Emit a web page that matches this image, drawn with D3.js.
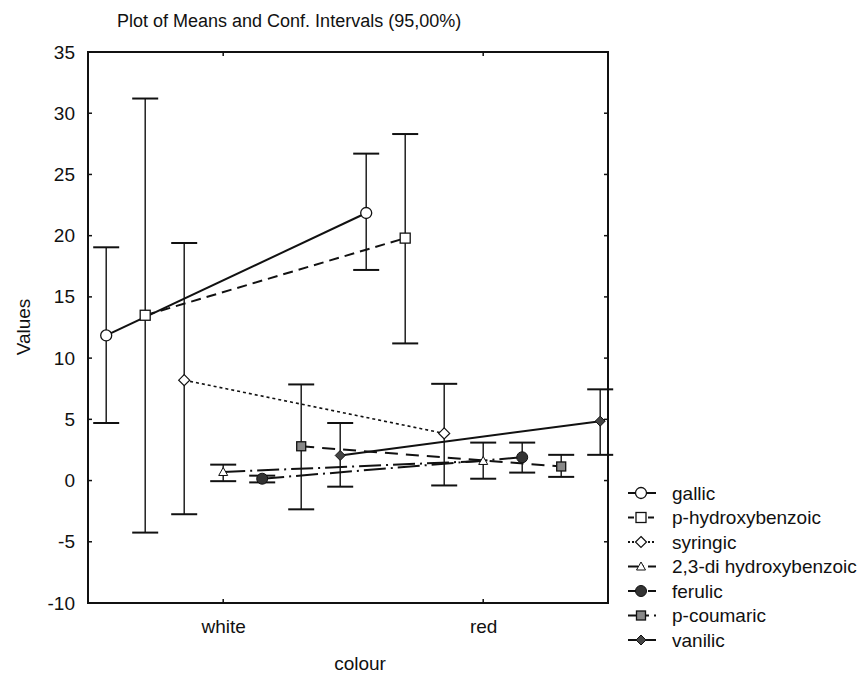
<!DOCTYPE html>
<html><head><meta charset="utf-8">
<script src="https://cdn.jsdelivr.net/npm/d3@7"></script>
<style>
html,body{margin:0;padding:0;background:#fff;}
text{font-family:"Liberation Sans",Arial,sans-serif;fill:#111;}
</style></head>
<body>
<svg id="chart" width="863" height="676"></svg>
<script>
const categories = ["white", "red"];
const seriesNames = ["gallic", "p-hydroxybenzoic", "syringic", "2,3-di hydroxybenzoic", "ferulic", "p-coumaric", "vanilic"];
const means = [
  [11.85, 21.85],
  [13.5, 19.8],
  [8.2, 3.85],
  [0.7, 1.6],
  [0.15, 1.9],
  [2.8, 1.15],
  [2.05, 4.85]
];
const upper = [
  [19.05, 26.7],
  [31.2, 28.3],
  [19.4, 7.9],
  [1.3, 3.1],
  [0.4, 3.1],
  [7.85, 2.1],
  [4.7, 7.45]
];
const lower = [
  [4.7, 17.2],
  [-4.25, 11.2],
  [-2.75, -0.4],
  [-0.05, 0.15],
  [-0.15, 0.65],
  [-2.35, 0.3],
  [-0.5, 2.1]
];
const yTicks = [-10, -5, 0, 5, 10, 15, 20, 25, 30, 35];
const titleText = "Plot of Means and Conf. Intervals (95,00%)";
const xTitle = "colour";
const yTitle = "Values";

const markers = ["circle", "square", "diamond", "triangle", "dot", "graysquare", "smalldiamond"];
const dashes = [null, "10,6", "3,3", "22,5,2,5", "22,5,2,5", "13,8", null];

const svg = d3.select("#chart");
const L = 88, R = 608, T = 52, B = 603;
const x = d3.scaleLinear().domain([-0.52, 1.48]).range([L, R]);
const y = d3.scaleLinear().domain([-10, 35]).range([B, T]);
const off = 0.15;
const px = (ci, si) => x(ci + (si - 3) * off);
const FF = "Liberation Sans, Arial, sans-serif";

// title
svg.append("text").attr("x", 117).attr("y", 27).style("font-size", "18px").text(titleText);

// frame
svg.append("rect").attr("x", L).attr("y", T).attr("width", R - L).attr("height", B - T)
  .attr("fill", "none").attr("stroke", "#111").attr("stroke-width", 2);

// y axis
const yAx = svg.append("g").attr("transform", `translate(${L},0)`)
  .call(d3.axisLeft(y).tickValues(yTicks).tickSize(0).tickPadding(13).tickFormat(d => String(d)));
yAx.select(".domain").remove();
yAx.attr("font-size", null).attr("font-family", null);
yAx.selectAll("text").style("font-size", "19px").style("font-family", FF).attr("fill", "#111");
yTicks.forEach(v => {
  svg.append("line").attr("x1", L).attr("x2", L + 4).attr("y1", y(v)).attr("y2", y(v)).attr("stroke", "#111").attr("stroke-width", 1.5);
  svg.append("line").attr("x1", R).attr("x2", R - 4).attr("y1", y(v)).attr("y2", y(v)).attr("stroke", "#111").attr("stroke-width", 1.5);
});

// x axis
const xAx = svg.append("g").attr("transform", `translate(0,${B})`)
  .call(d3.axisBottom(x).tickValues([0, 1]).tickSize(0).tickPadding(17).tickFormat(i => categories[i]));
xAx.select(".domain").remove();
xAx.attr("font-size", null).attr("font-family", null);
xAx.selectAll("text").style("font-size", "19px").style("font-family", FF).attr("fill", "#111");
[0, 1].forEach(c => {
  svg.append("line").attr("x1", x(c)).attr("x2", x(c)).attr("y1", T).attr("y2", T + 4).attr("stroke", "#111").attr("stroke-width", 1.5);
  svg.append("line").attr("x1", x(c)).attr("x2", x(c)).attr("y1", B).attr("y2", B - 4).attr("stroke", "#111").attr("stroke-width", 1.5);
});

svg.append("text").attr("x", 360).attr("y", 670).attr("text-anchor", "middle").style("font-size", "19px").text(xTitle);
svg.append("text").attr("transform", `translate(30,327) rotate(-90)`).attr("text-anchor", "middle").style("font-size", "19px").text(yTitle);

function drawMarker(g, type, cx, cy) {
  const s = "#111";
  switch (type) {
    case "circle":
      g.append("circle").attr("cx", cx).attr("cy", cy).attr("r", 5.5).attr("fill", "#fff").attr("stroke", s).attr("stroke-width", 1.3); break;
    case "square":
      g.append("rect").attr("x", cx - 5).attr("y", cy - 5).attr("width", 10).attr("height", 10).attr("fill", "#fff").attr("stroke", s).attr("stroke-width", 1.3); break;
    case "diamond":
      g.append("path").attr("d", `M${cx},${cy-5.5}L${cx+5.5},${cy}L${cx},${cy+5.5}L${cx-5.5},${cy}Z`).attr("fill", "#fff").attr("stroke", s).attr("stroke-width", 1.2); break;
    case "triangle":
      g.append("path").attr("d", `M${cx},${cy-4.5}L${cx+4.5},${cy+3.5}L${cx-4.5},${cy+3.5}Z`).attr("fill", "#fff").attr("stroke", s).attr("stroke-width", 1); break;
    case "dot":
      g.append("circle").attr("cx", cx).attr("cy", cy).attr("r", 5.5).attr("fill", "#333").attr("stroke", s).attr("stroke-width", 1); break;
    case "graysquare":
      g.append("rect").attr("x", cx - 4.5).attr("y", cy - 4.5).attr("width", 9).attr("height", 9).attr("fill", "#888").attr("stroke", s).attr("stroke-width", 1.3); break;
    case "smalldiamond":
      g.append("path").attr("d", `M${cx},${cy-5}L${cx+5},${cy}L${cx},${cy+5}L${cx-5},${cy}Z`).attr("fill", "#444").attr("stroke", s).attr("stroke-width", 1); break;
  }
}

const plot = svg.append("g");
seriesNames.forEach((name, si) => {
  [0, 1].forEach(ci => {
    const cx = px(ci, si);
    plot.append("line").attr("x1", cx).attr("x2", cx).attr("y1", y(upper[si][ci])).attr("y2", y(lower[si][ci]))
      .attr("stroke", "#111").attr("stroke-width", 1.4);
    [upper[si][ci], lower[si][ci]].forEach(v => {
      plot.append("line").attr("x1", cx - 13).attr("x2", cx + 13).attr("y1", y(v)).attr("y2", y(v))
        .attr("stroke", "#111").attr("stroke-width", 2);
    });
  });
});
const line = d3.line().x(d => d[0]).y(d => d[1]);
seriesNames.forEach((name, si) => {
  const pts = [0, 1].map(ci => [px(ci, si), y(means[si][ci])]);
  const p = plot.append("path").attr("d", line(pts)).attr("fill", "none").attr("stroke", "#111")
    .attr("stroke-width", si === 2 ? 1.6 : 2);
  if (dashes[si]) p.attr("stroke-dasharray", dashes[si]);
});
seriesNames.forEach((name, si) => {
  [0, 1].forEach(ci => drawMarker(plot, markers[si], px(ci, si), y(means[si][ci])));
});

// legend
const lg = svg.append("g");
const legDash = [null, "6,4", "2,2", "10,4,2,4", "10,4,2,4", "8,5", null];
seriesNames.forEach((name, si) => {
  const ly = 493 + si * 24.5;
  const l = lg.append("line").attr("x1", 628).attr("x2", 656).attr("y1", ly).attr("y2", ly)
    .attr("stroke", "#111").attr("stroke-width", 2);
  if (legDash[si]) l.attr("stroke-dasharray", legDash[si]);
  drawMarker(lg, markers[si], 641, ly);
  lg.append("text").attr("x", 672).attr("y", ly + 6.5).style("font-size", "19px").text(name);
});
</script>
</body></html>
